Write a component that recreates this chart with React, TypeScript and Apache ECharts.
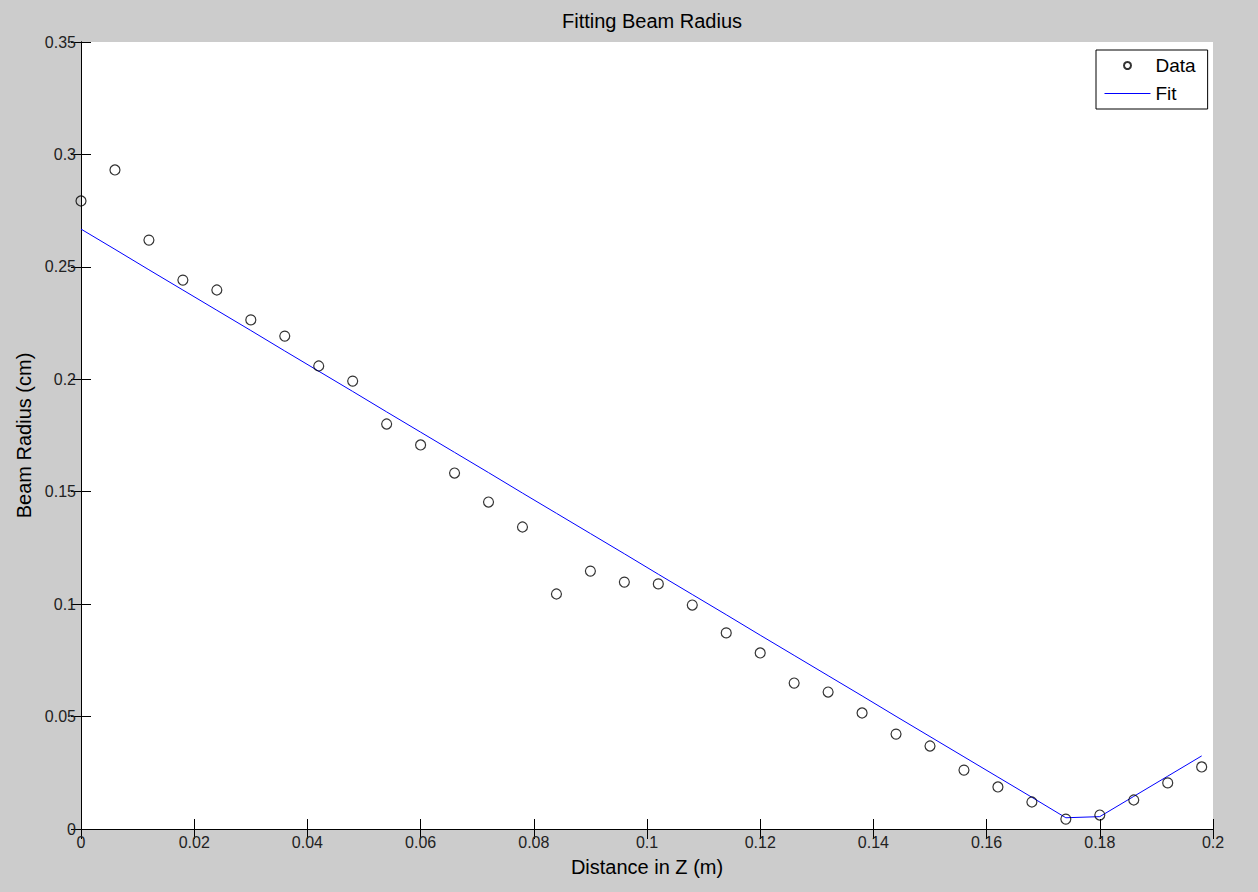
import React, { useEffect, useRef } from "react";
import * as echarts from "echarts";

const zValues = [
  0, 0.006, 0.012, 0.018, 0.024, 0.03, 0.036, 0.042, 0.048, 0.054, 0.06, 0.066,
  0.072, 0.078, 0.084, 0.09, 0.096, 0.102, 0.108, 0.114, 0.12, 0.126, 0.132,
  0.138, 0.144, 0.15, 0.156, 0.162, 0.168, 0.174, 0.18, 0.186, 0.192, 0.198,
];

const dataRadius = [
  0.2793, 0.2931, 0.2619, 0.2441, 0.2397, 0.2264, 0.2192, 0.2059, 0.1992,
  0.1801, 0.1708, 0.1583, 0.1454, 0.1343, 0.1045, 0.1147, 0.1098, 0.109,
  0.0996, 0.0872, 0.0783, 0.0649, 0.0609, 0.0516, 0.0422, 0.0369, 0.0262,
  0.0187, 0.012, 0.0044, 0.0062, 0.0129, 0.0205, 0.0276,
];

const fitRadius = [
  0.2668, 0.2578, 0.2487, 0.2397, 0.2307, 0.2217, 0.2126, 0.2036, 0.1946,
  0.1855, 0.1765, 0.1675, 0.1585, 0.1494, 0.1404, 0.1314, 0.1224, 0.1133,
  0.1043, 0.0953, 0.0862, 0.0772, 0.0682, 0.0592, 0.0501, 0.0411, 0.0321,
  0.0231, 0.0141, 0.005, 0.0055, 0.0145, 0.0235, 0.0325,
];

const FONT = "'Liberation Sans', Arial, Helvetica, sans-serif";

export default function App() {
  const ref = useRef<HTMLDivElement>(null);

  useEffect(() => {
    document.body.style.margin = "0";
    if (!ref.current) return;
    const chart = echarts.init(ref.current, undefined, { renderer: "svg" });

    const axisCommon = {
      type: "value" as const,
      axisLine: { show: true, lineStyle: { color: "#000", width: 1 } },
      axisTick: { show: true, inside: true, length: 10, lineStyle: { color: "#000" } },
      splitLine: { show: false },
    };

    chart.setOption({
      animation: false,
      backgroundColor: "#cccccc",
      title: {
        text: "Fitting Beam Radius",
        left: 647,
        top: 6,
        textAlign: "center",
        textStyle: { fontFamily: FONT, fontSize: 20, fontWeight: "normal", color: "#000" },
      },
      grid: { left: 81, right: 45, top: 42, bottom: 63, backgroundColor: "#fff", show: true, borderWidth: 0 },
      legend: {
        orient: "vertical",
        left: 1096,
        top: 50,
        padding: [6, 12, 6, 8],
        itemWidth: 46,
        itemHeight: 7,
        itemGap: 9,
        backgroundColor: "#fff",
        borderColor: "#000",
        borderWidth: 1,
        borderRadius: 0,
        textStyle: { fontFamily: FONT, fontSize: 19, color: "#000", lineHeight: 18 },
        data: [
          { name: "Data" },
          {
            name: "Fit",
            itemStyle: { color: "rgba(0,0,0,0)", borderWidth: 0, opacity: 0 },
            lineStyle: { width: 1, color: "#0000ff" },
          },
        ],
      },
      xAxis: [
        {
          ...axisCommon,
          min: 0,
          max: 0.2,
          interval: 0.02,
          name: "Distance in Z (m)",
          nameLocation: "middle",
          nameGap: 28,
          nameTextStyle: { fontFamily: FONT, fontSize: 20, color: "#000" },
          axisLabel: { fontFamily: FONT, fontSize: 16, color: "#222", margin: 5 },
        },
        {
          ...axisCommon,
          position: "top",
          min: 0,
          max: 0.2,
          interval: 0.02,
          axisLabel: { show: false },
        },
      ],
      yAxis: [
        {
          ...axisCommon,
          min: 0,
          max: 0.35,
          interval: 0.05,
          name: "Beam Radius (cm)",
          nameLocation: "middle",
          nameGap: 46,
          nameTextStyle: { fontFamily: FONT, fontSize: 20, color: "#000" },
          axisLabel: { fontFamily: FONT, fontSize: 16, color: "#222", margin: 5 },
        },
        {
          ...axisCommon,
          position: "right",
          min: 0,
          max: 0.35,
          interval: 0.05,
          axisLabel: { show: false },
        },
      ],
      series: [
        {
          name: "Data",
          type: "scatter",
          xAxisIndex: 0,
          yAxisIndex: 0,
          symbol: "circle",
          symbolSize: 10,
          itemStyle: { color: "rgba(255,255,255,0)", borderColor: "#000", borderWidth: 1.2 },
          data: zValues.map((z, i) => [z, dataRadius[i]]),
          z: 3,
        },
        {
          name: "Fit",
          type: "line",
          xAxisIndex: 0,
          yAxisIndex: 0,
          symbol: "none",
          showSymbol: false,
          lineStyle: { color: "#0000ff", width: 1 },
          itemStyle: { color: "#0000ff" },
          data: zValues.map((z, i) => [z, fitRadius[i]]),
          z: 2,
        },
      ],
    });

    return () => chart.dispose();
  }, []);

  return <div ref={ref} style={{ width: 1258, height: 892 }} />;
}
